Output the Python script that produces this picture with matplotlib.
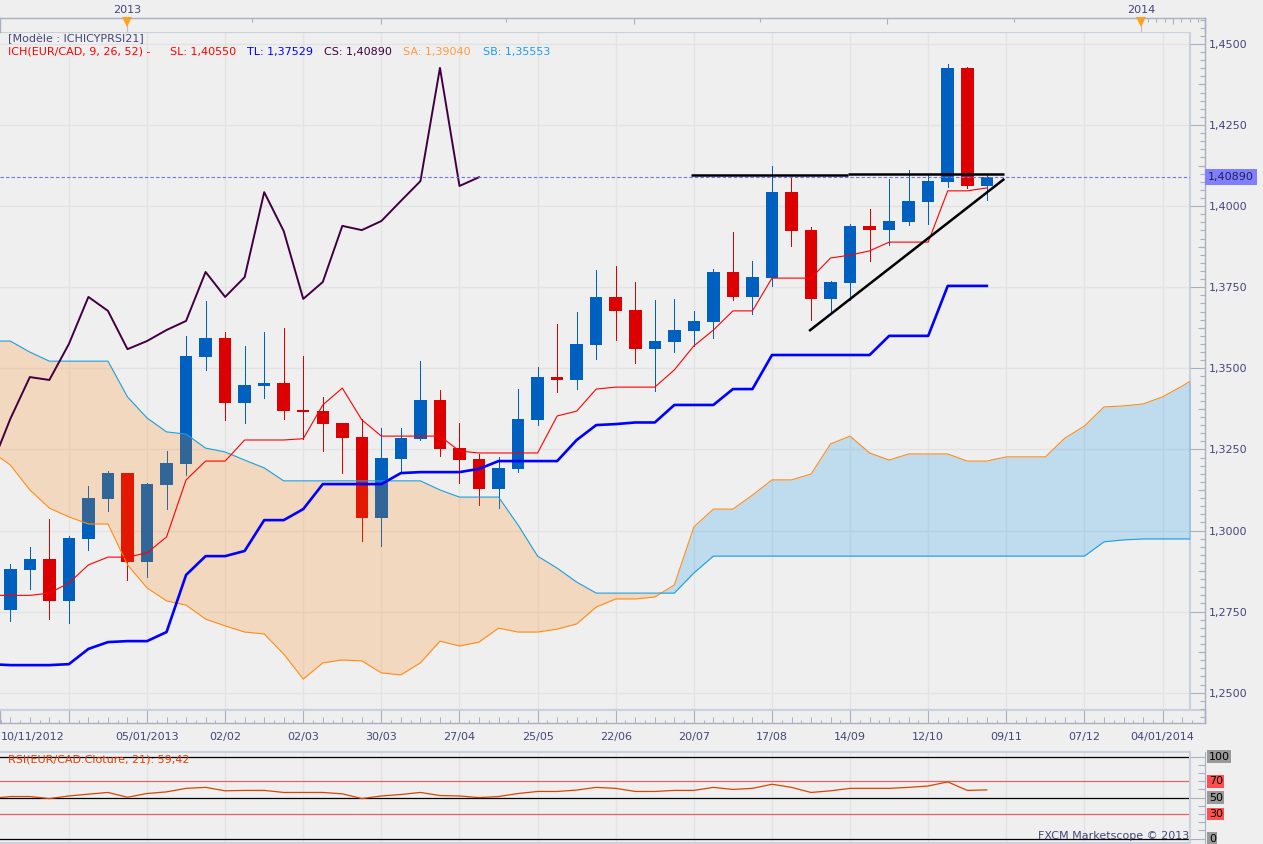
import numpy as np
import matplotlib
matplotlib.use('Agg')
import matplotlib.pyplot as plt

# EUR/CAD hebdo, valeurs
highs = [1.2897, 1.2949, 1.3035, 1.2983, 1.3137, 1.3183, 1.3177, 1.3146, 1.3245, 1.3600,
         1.3707, 1.3612, 1.3569, 1.3612, 1.3624, 1.3538, 1.3412, 1.3331, 1.3344, 1.3316,
         1.3316, 1.3522, 1.3433, 1.3331, 1.3236, 1.3227, 1.3436, 1.3504, 1.3637, 1.3674,
         1.3803, 1.3815, 1.3766, 1.3711, 1.3714, 1.3677, 1.3806, 1.3920, 1.3831, 1.4124,
         1.4090, 1.3936, 1.3769, 1.3945, 1.3991, 1.4084, 1.4111, 1.4099, 1.4438, 1.4429, 1.4096]
opens = [1.2755, 1.2879, 1.2912, 1.2784, 1.2975, 1.3097, 1.3177, 1.2904, 1.3141, 1.3205,
         1.3535, 1.3593, 1.3394, 1.3446, 1.3455, 1.3371, 1.3368, 1.3331, 1.3288, 1.3039,
         1.3220, 1.3282, 1.3402, 1.3254, 1.3220, 1.3128, 1.3190, 1.3341, 1.3473, 1.3464,
         1.3572, 1.3720, 1.3680, 1.3559, 1.3581, 1.3615, 1.3643, 1.3797, 1.3720, 1.3778,
         1.4043, 1.3926, 1.3714, 1.3763, 1.3939, 1.3926, 1.3951, 1.4013, 1.4074, 1.4426, 1.4062]
closes = [1.2881, 1.2912, 1.2784, 1.2977, 1.3100, 1.3177, 1.2904, 1.3143, 1.3208, 1.3538,
          1.3593, 1.3394, 1.3449, 1.3456, 1.3369, 1.3365, 1.3328, 1.3285, 1.3039, 1.3223,
          1.3285, 1.3402, 1.3251, 1.3217, 1.3128, 1.3193, 1.3344, 1.3473, 1.3464, 1.3575,
          1.3720, 1.3677, 1.3559, 1.3584, 1.3618, 1.3646, 1.3797, 1.3720, 1.3781, 1.4043,
          1.3923, 1.3714, 1.3766, 1.3939, 1.3926, 1.3954, 1.4016, 1.4077, 1.4426, 1.4062, 1.4089]
lows = [1.2721, 1.2821, 1.2727, 1.2715, 1.2940, 1.3060, 1.2847, 1.2857, 1.3066, 1.3171,
        1.3495, 1.3341, 1.3331, 1.3408, 1.3344, 1.3282, 1.3245, 1.3177, 1.2968, 1.2952,
        1.3177, 1.3279, 1.3229, 1.3146, 1.3079, 1.3069, 1.3180, 1.3325, 1.3427, 1.3436,
        1.3529, 1.3587, 1.3516, 1.3430, 1.3550, 1.3569, 1.3593, 1.3711, 1.3667, 1.3754,
        1.3877, 1.3649, 1.3674, 1.3711, 1.3831, 1.3880, 1.3942, 1.3945, 1.4059, 1.4056, 1.4019]

# Lignes Ichimoku (la premiere valeur est la semaine avant le bord gauche)
tenkan = [1.2800, 1.2800, 1.2800, 1.2807, 1.2838, 1.2894, 1.2918, 1.2918, 1.2931, 1.2980,
          1.3156, 1.3214, 1.3214, 1.3279, 1.3279, 1.3279, 1.3283, 1.3387, 1.3439, 1.3341,
          1.3291, 1.3291, 1.3291, 1.3291, 1.3245, 1.3239, 1.3239, 1.3239, 1.3239, 1.3353,
          1.3368, 1.3436, 1.3442, 1.3442, 1.3442, 1.3495, 1.3569, 1.3618, 1.3677, 1.3677,
          1.3778, 1.3778, 1.3778, 1.3840, 1.3849, 1.3862, 1.3889, 1.3889, 1.3889, 1.4047,
          1.4047, 1.4056]
kijun = [1.2588, 1.2585, 1.2585, 1.2585, 1.2588, 1.2635, 1.2656, 1.2659, 1.2659, 1.2687,
         1.2863, 1.2921, 1.2921, 1.2937, 1.3032, 1.3032, 1.3066, 1.3143, 1.3143, 1.3143,
         1.3143, 1.3177, 1.3180, 1.3180, 1.3180, 1.3190, 1.3214, 1.3214, 1.3214, 1.3214,
         1.3279, 1.3325, 1.3328, 1.3333, 1.3333, 1.3387, 1.3387, 1.3387, 1.3436, 1.3436,
         1.3541, 1.3541, 1.3541, 1.3541, 1.3541, 1.3541, 1.3600, 1.3600, 1.3600, 1.3754,
         1.3754, 1.3754]
senkou_a = [1.3245, 1.3202, 1.3125, 1.3069, 1.3042, 1.3020, 1.3020, 1.2894, 1.2823, 1.2783,
            1.2770, 1.2727, 1.2706, 1.2687, 1.2681, 1.2619, 1.2542, 1.2592, 1.2601, 1.2598,
            1.2561, 1.2555, 1.2592, 1.2659, 1.2644, 1.2656, 1.2699, 1.2687, 1.2687, 1.2696,
            1.2712, 1.2764, 1.2789, 1.2789, 1.2795, 1.2832, 1.3011, 1.3066, 1.3066, 1.3109,
            1.3156, 1.3156, 1.3174, 1.3267, 1.3291, 1.3239, 1.3217, 1.3236, 1.3236, 1.3236,
            1.3214, 1.3214, 1.3227, 1.3227, 1.3227, 1.3285, 1.3322, 1.3381, 1.3384, 1.3390,
            1.3412, 1.3445, 1.3482]
senkou_b = [1.3584, 1.3584, 1.3550, 1.3522, 1.3522, 1.3522, 1.3522, 1.3412, 1.3347, 1.3304,
            1.3297, 1.3254, 1.3242, 1.3217, 1.3193, 1.3153, 1.3153, 1.3153, 1.3153, 1.3153,
            1.3153, 1.3153, 1.3153, 1.3125, 1.3103, 1.3103, 1.3103, 1.3017, 1.2921, 1.2884,
            1.2841, 1.2807, 1.2807, 1.2807, 1.2807, 1.2807, 1.2869, 1.2921, 1.2921, 1.2921,
            1.2921, 1.2921, 1.2921, 1.2921, 1.2921, 1.2921, 1.2921, 1.2921, 1.2921, 1.2921,
            1.2921, 1.2921, 1.2921, 1.2921, 1.2921, 1.2921, 1.2921, 1.2965, 1.2971, 1.2974,
            1.2974, 1.2974, 1.2974]

rsi = [49.0, 51.3, 51.3, 48.8, 52.0, 54.2, 56.3, 50.4, 55.0, 57.0, 61.3, 62.5, 58.3, 58.8,
       58.8, 56.3, 56.3, 56.3, 54.6, 48.8, 52.0, 53.8, 56.3, 52.5, 52.0, 50.0, 51.3, 55.0,
       57.5, 57.5, 59.2, 62.5, 61.3, 57.5, 57.5, 58.8, 58.8, 62.5, 60.0, 61.3, 66.3, 62.5,
       56.3, 58.3, 61.3, 61.3, 61.3, 62.5, 64.2, 69.2, 58.8, 59.42]

# Supports / resistances traces a la main : (semaine, prix)
resistance_a = ([34.85, 42.9], [1.4096, 1.4096])
resistance_b = ([42.9, 50.9], [1.4099, 1.4099])
trendline = ([40.9, 50.9], [1.3615, 1.4084])

last_price = 1.4089
price_ticks = [1.25, 1.275, 1.30, 1.325, 1.35, 1.375, 1.40, 1.425, 1.45]
date_pos = [3, 7, 11, 15, 19, 23, 27, 31, 35, 39, 43, 47, 51, 55, 59]
date_labels = ['', '05/01/2013', '02/02', '02/03', '30/03', '27/04', '25/05', '22/06',
               '20/07', '17/08', '14/09', '12/10', '09/11', '07/12', '04/01/2014']
year_pos = [5.97, 57.9]
year_labels = ['2013', '2014']
top_long = [18.98, 31.96, 44.9, 57.9]
top_short = [12.4, 25.4, 38.4, 51.4, 58.25, 58.68, 59.1, 59.96, 60.39, 60.8]
top_mid = [59.53]

legend_txt = ['ICH(EUR/CAD, 9, 26, 52) -', 'SL: 1,40550', 'TL: 1,37529', 'CS: 1,40890',
              'SA: 1,39040', 'SB: 1,35553']
legend_x = [8, 170, 247, 324, 403, 483]
legend_col = ['#ff0000', '#ff0000', '#0000ff', '#400040', '#ff9a3c', '#1e9cf0']

BG = '#efefef'
GRID = '#e3e3e3'
PANEL = '#c9d1dc'
STRIP = '#a9b1c1'
TXT = '#45457a'
UP = '#0060c0'
DOWN = '#dc0000'

plt.rcParams['font.family'] = ['DejaVu Sans']
plt.rcParams['font.size'] = 8

W, H = 1263, 844
fig = plt.figure(figsize=(W / 100, H / 100), dpi=100, facecolor=BG)


def box(x0, y0, x1, y1):
    # rectangle en pixels image -> fraction de figure
    return [x0 / W, 1 - y1 / H, (x1 - x0) / W, (y1 - y0) / H]


def ptext(x, y, s, **kw):
    kw.setdefault('color', TXT)
    kw.setdefault('va', 'center')
    return fig.text(x / W, 1 - y / H, s, **kw)


def px2i(x):
    return (x - 10.3) / 19.53


def px2p(y):
    return 1.30 + (530.5 - y) / 3244


ax = fig.add_axes(box(0, 32, 1190, 710), facecolor=BG)
ax_top = fig.add_axes(box(0, 18, 1205, 32), facecolor=BG)
ax_bot = fig.add_axes(box(0, 710, 1205, 723), facecolor=BG)
ax_right = fig.add_axes(box(1190, 18, 1205, 723), facecolor='none')
ax_rsi = fig.add_axes(box(0, 752, 1190, 843), facecolor=BG)
ax_rsi_r = fig.add_axes(box(1190, 752, 1205, 843), facecolor='none')

# panneau principal
x_candle = np.arange(len(closes))
x_line = np.arange(-1, len(tenkan) - 1)
x_cloud = np.arange(-1, len(senkou_a) - 1)
sa = np.array(senkou_a)
sb = np.array(senkou_b)
o = np.array(opens)
c = np.array(closes)
colors = np.where(c >= o, UP, DOWN)

ax.set_xlim(px2i(0), px2i(1190))
ax.set_ylim(px2p(710), px2p(32))
ax.set_xticks(date_pos)
ax.set_yticks(price_ticks)
ax.tick_params(length=0, labelbottom=False, labelleft=False)
ax.grid(True, color=GRID, lw=1.0, zorder=0)
ax.set_axisbelow(True)

ax.vlines(x_candle, lows, highs, colors=colors, lw=0.72, antialiased=False, zorder=2)
ax.bar(x_candle, np.abs(c - o), bottom=np.minimum(o, c), width=0.64, color=colors,
       linewidth=0, antialiased=False, zorder=2)

# le nuage passe par-dessus les bougies
ax.fill_between(x_cloud, sa, sb, where=sb >= sa, interpolate=True, color='#ff8000',
                alpha=0.2, lw=0, zorder=3)
ax.fill_between(x_cloud, sa, sb, where=sb <= sa, interpolate=True, color='#0091eb',
                alpha=0.2, lw=0, zorder=3)
ax.plot(x_cloud, sa, color='#ff8c1a', lw=0.8, zorder=4)
ax.plot(x_cloud, sb, color='#1a9ee0', lw=0.8, zorder=4)

ax.plot(x_line, tenkan, color='#ff0000', lw=0.8, zorder=5)
ax.plot(x_line, kijun, color='#0000ff', lw=1.9, zorder=5)
# chikou : cloture decalee de 26 semaines
ax.plot(np.arange(25, len(closes)) - 26, closes[25:], color='#400040', lw=1.4, zorder=5)

ax.axhline(last_price, color='#7070f0', lw=0.8, ls=(0, (3, 2)), zorder=6)
ax.plot(*resistance_a, color='black', lw=1.8, solid_capstyle='butt', zorder=7)
ax.plot(*resistance_b, color='black', lw=1.8, solid_capstyle='butt', zorder=7)
ax.plot(*trendline, color='black', lw=1.8, solid_capstyle='butt', zorder=7)

ax.spines['left'].set_visible(False)
for side in ['top', 'right', 'bottom']:
    ax.spines[side].set_color(PANEL)
    ax.spines[side].set_linewidth(1.5)

# bande du haut (annees)
ax_top.set_xlim(px2i(0), px2i(1205))
ax_top.set_ylim(0, 14)
ax_top.set_xticks([])
ax_top.set_yticks([])
ax_top.vlines(top_long, 8, 14, color=STRIP, lw=0.8)
ax_top.vlines(top_short, 10.5, 14, color=STRIP, lw=0.8)
ax_top.vlines(top_mid, 8, 14, color=STRIP, lw=0.8)
ax_top.vlines(year_pos, 0, 14, color='#c0c0c0', lw=0.8)
ax_top.plot(year_pos, [10.5, 10.5], ls='none', marker='v', ms=7, color='#ffa020', mew=0,
            clip_on=False, zorder=5)
for xp, lab in zip(year_pos, year_labels):
    ax_top.text(xp, 1.6, lab, color=TXT, ha='center', va='center',
                transform=ax_top.get_xaxis_transform())
for side in ax_top.spines:
    ax_top.spines[side].set_color(STRIP)
    ax_top.spines[side].set_linewidth(1.0)
ax_top.spines['bottom'].set_visible(False)

# bande du bas (dates)
ax_bot.set_xlim(px2i(0), px2i(1205))
ax_bot.set_ylim(0, 13)
ax_bot.set_yticks([])
ax_bot.set_xticks(date_pos)
ax_bot.set_xticklabels(date_labels, color=TXT)
ax_bot.tick_params(axis='x', direction='in', length=9.4, width=0.8, color=STRIP, pad=6.5)
weeks = np.arange(-1, 61)
half = weeks + 0.5
ax_bot.vlines(weeks[(weeks + 1) % 4 != 0], 0, 6, color=STRIP, lw=0.7)
ax_bot.vlines(half, 0, 3, color=STRIP, lw=0.7)
for side in ax_bot.spines:
    ax_bot.spines[side].set_color(STRIP)
    ax_bot.spines[side].set_linewidth(1.0)
ax_bot.spines['top'].set_color(PANEL)
ax_bot.spines['top'].set_linewidth(1.5)
ptext(33, 737, '10/11/2012', ha='center')

# echelle de prix
ax_right.set_xlim(0, 1)
ax_right.set_ylim(px2p(723), px2p(18))
ax_right.set_xticks([])
ax_right.yaxis.tick_right()
ax_right.set_yticks(price_ticks)
ax_right.set_yticklabels([f'{v:.4f}'.replace('.', ',') for v in price_ticks], color=TXT)
ax_right.set_yticks(np.arange(1.2425, 1.4575, 0.0025), minor=True)
ax_right.tick_params(axis='y', which='major', direction='in', length=10.8, width=0.8,
                     color=STRIP, pad=3)
ax_right.tick_params(axis='y', which='minor', direction='in', length=3.6, width=0.8,
                     color=STRIP)
ax_right.hlines(np.arange(1.2375, 1.4625, 0.025), 0.5, 1, color=STRIP, lw=0.8)
for side in ['left', 'top', 'bottom']:
    ax_right.spines[side].set_visible(False)
ax_right.spines['right'].set_color(STRIP)
ax_right.spines['right'].set_linewidth(1.0)

ptext(1208, 177, '1,40890', color='#20205a',
      bbox=dict(boxstyle='square,pad=0.28', fc='#8080ff', ec='none'))

# textes du panneau principal
ptext(8, 39, '[Modèle : ICHICYPRSI21]')
for s, xp, col in zip(legend_txt, legend_x, legend_col):
    ptext(xp, 52, s, color=col)

# panneau RSI
def px2r(y):
    return (838.5 - y) / 0.818


ax_rsi.set_xlim(px2i(0), px2i(1190))
ax_rsi.set_ylim(px2r(843), px2r(752))
ax_rsi.set_xticks(date_pos)
ax_rsi.set_yticks([])
ax_rsi.tick_params(length=0, labelbottom=False)
ax_rsi.grid(True, axis='x', color=GRID, lw=1.0, zorder=0)
ax_rsi.set_axisbelow(True)
for lvl in [0, 50, 100]:
    ax_rsi.axhline(lvl, color='black', lw=0.9, zorder=2)
for lvl in [30, 70]:
    ax_rsi.axhline(lvl, color='#e86060', lw=0.9, zorder=2)
ax_rsi.plot(x_line, rsi, color='#dd4400', lw=0.9, zorder=3)
ax_rsi.spines['left'].set_visible(False)
for side in ['top', 'right', 'bottom']:
    ax_rsi.spines[side].set_color(PANEL)
    ax_rsi.spines[side].set_linewidth(1.5)
ptext(8, 759, 'RSI(EUR/CAD.Cloture, 21): 59,42', color='#e04000')
ptext(1189, 836, 'FXCM Marketscope © 2013', ha='right')

ax_rsi_r.set_xlim(0, 1)
ax_rsi_r.set_ylim(px2r(843), px2r(752))
ax_rsi_r.set_xticks([])
ax_rsi_r.yaxis.tick_right()
ax_rsi_r.set_yticks([0, 50, 100])
ax_rsi_r.set_yticklabels([])
ax_rsi_r.set_yticks(np.arange(0, 101, 10), minor=True)
ax_rsi_r.tick_params(axis='y', which='major', direction='in', length=10.8, width=0.8, color=STRIP)
ax_rsi_r.tick_params(axis='y', which='minor', direction='in', length=5, width=0.8, color=STRIP)
for side in ['left', 'top', 'bottom']:
    ax_rsi_r.spines[side].set_visible(False)
ax_rsi_r.spines['right'].set_color(STRIP)
for lvl, fc in zip([100, 70, 50, 30, 0], ['#999999', '#ff5050', '#999999', '#ff5050', '#999999']):
    ax_rsi_r.text(1.25, lvl, str(lvl), color='black', va='center', ha='left', fontsize=8,
                  transform=ax_rsi_r.get_yaxis_transform(), clip_on=False,
                  bbox=dict(boxstyle='square,pad=0.12', fc=fc, ec='none'))

fig.savefig('out.png', dpi=100, facecolor=BG)
